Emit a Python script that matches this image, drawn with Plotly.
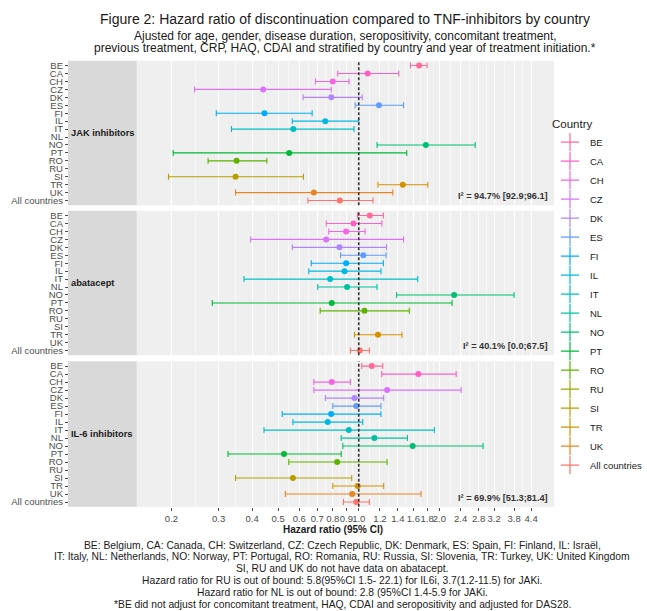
import math
import plotly.graph_objects as go

W, H = 647, 611

countries = ["BE", "CA", "CH", "CZ", "DK", "ES", "FI", "IL", "IT", "NL",
             "NO", "PT", "RO", "RU", "SI", "TR", "UK", "All countries"]

panels = ["JAK inhibitors", "abatacept", "IL-6 inhibitors"]

jak_hr = [1.68, 1.08, 0.80, 0.44, 0.79, 1.19, 0.445, 0.75, 0.57, None,
          1.78, 0.55, 0.35, None, 0.347, 1.46, 0.68, 0.85]
jak_lo = [1.56, 0.835, 0.69, 0.244, 0.62, 0.97, 0.294, 0.565, 0.335, None,
          1.17, 0.203, 0.274, None, 0.195, 1.18, 0.347, 0.646]
jak_hi = [1.80, 1.41, 0.92, 0.79, 1.03, 1.47, 0.67, 1.0, 0.96, None,
          2.72, 1.51, 0.454, None, 0.622, 1.81, 1.34, 1.13]

abt_hr = [1.10, 0.956, 0.897, 0.756, 0.847, 1.04, 0.897, 0.885, 0.782, 0.905,
          2.27, 0.793, 1.05, None, None, 1.18, None, 1.01]
abt_lo = [0.99, 0.756, 0.773, 0.395, 0.565, 0.855, 0.665, 0.651, 0.373, 0.703,
          1.385, 0.284, 0.718, None, None, 0.964, None, 0.931]
abt_hi = [1.236, 1.22, 1.056, 1.47, 1.27, 1.265, 1.236, 1.21, 1.66, 1.17,
          3.80, 2.23, 1.545, None, None, 1.45, None, 1.096]

il6_hr = [1.118, 1.669, 0.793, 1.276, 0.964, 0.978, 0.789, 0.766, 0.918, 1.144,
          1.589, 0.526, 0.831, None, 0.568, 0.991, 0.945, 0.978]
il6_lo = [1.026, 1.218, 0.68, 0.68, 0.751, 0.80, 0.518, 0.568, 0.443, 0.86,
          0.872, 0.325, 0.548, None, 0.347, 0.80, 0.532, 0.877]
il6_hi = [1.229, 2.31, 0.931, 2.41, 1.239, 1.21, 1.21, 1.035, 1.915, 1.52,
          2.91, 0.86, 1.276, None, 0.942, 1.239, 1.708, 1.096]

i2_labels = ["I² = 94.7% [92.9;96.1]", "I² = 40.1% [0.0;67.5]", "I² = 69.9% [51.3;81.4]"]

tick_vals = [0.2, 0.3, 0.4, 0.5, 0.6, 0.7, 0.8, 0.9, 1.0, 1.2, 1.4, 1.6, 1.8,
             2.0, 2.4, 2.8, 3.2, 3.8, 4.4]
tick_text = ["0.2", "0.3", "0.4", "0.5", "0.6", "0.7", "0.8", "0.9", "1.0", "1.2",
             "1.4", "1.6", "1.8", "2.0", "2.4", "2.8", "3.2", "3.8", "4.4"]

title = "Figure 2: Hazard ratio of discontinuation compared to TNF-inhibitors by country"
subtitle = ["Ajusted for age, gender, disease duration, seropositivity, concomitant treatment,",
            "previous treatment, CRP, HAQ, CDAI and stratified by country and year of treatment initiation.*"]
footnotes = [
    "BE: Belgium, CA: Canada, CH: Switzerland, CZ: Czech Republic, DK: Denmark, ES: Spain, FI: Finland, IL: Israël,",
    "IT: Italy, NL: Netherlands, NO: Norway, PT: Portugal, RO: Romania, RU: Russia, SI: Slovenia, TR: Turkey, UK: United Kingdom",
    "SI, RU and UK do not have data on abatacept.",
    "Hazard ratio for RU is out of bound: 5.8(95%CI 1.5- 22.1) for IL6i, 3.7(1.2-11.5) for JAKi.",
    "Hazard ratio for NL is out of bound: 2.8 (95%CI 1.4-5.9 for JAKi.",
    "*BE did not adjust for concomitant treatment, HAQ, CDAI and seropositivity and adjusted for DAS28.",
]

panel_data = [(jak_hr, jak_lo, jak_hi), (abt_hr, abt_lo, abt_hi), (il6_hr, il6_lo, il6_hi)]


# ggplot-like hue palette (hcl, c=100, l=65)
def hcl_hex(h, c=100.0, l=65.0):
    Xn, Yn, Zn = 95.047, 100.0, 108.883
    un = 4 * Xn / (Xn + 15 * Yn + 3 * Zn)
    vn = 9 * Yn / (Xn + 15 * Yn + 3 * Zn)
    u = c * math.cos(math.radians(h))
    v = c * math.sin(math.radians(h))
    Y = Yn * ((l + 16) / 116) ** 3
    up = u / (13 * l) + un
    vp = v / (13 * l) + vn
    X = Y * 9 * up / (4 * vp)
    Z = Y * (12 - 3 * up - 20 * vp) / (4 * vp)
    X, Y, Z = X / 100, Y / 100, Z / 100
    r = 3.240479 * X - 1.537150 * Y - 0.498535 * Z
    g = -0.969256 * X + 1.875992 * Y + 0.041556 * Z
    b = 0.055648 * X - 0.204043 * Y + 1.057311 * Z

    def gam(t):
        t = 12.92 * t if t <= 0.0031308 else 1.055 * t ** (1 / 2.4) - 0.055
        return max(0, min(255, round(t * 255)))
    return "#%02X%02X%02X" % (gam(r), gam(g), gam(b))


n = len(countries)
hues = [15 + i * 360 / n for i in range(n)]
colors = [hcl_hex(h) for h in reversed(hues)]

BASE = "Liberation Sans, Arial, sans-serif"


def px_x(p):
    return p / W


def px_y(p):
    return 1 - p / H


panel_px = [(60, 205), (210.5, 355.5), (361.5, 507.5)]
x_left, x_right = 137, 555
strip_left = 68

fig = go.Figure()

for pi, (hr, lo, hi) in enumerate(panel_data):
    xa = "x" if pi == 0 else "x%d" % (pi + 1)
    ya = "y" if pi == 0 else "y%d" % (pi + 1)
    for ci, c in enumerate(countries):
        if hr[ci] is None:
            continue
        fig.add_trace(go.Scatter(
            x=[hr[ci]], y=[c], mode="markers", xaxis=xa, yaxis=ya,
            marker=dict(color=colors[ci], size=6),
            error_x=dict(type="data", symmetric=False,
                         array=[hi[ci] - hr[ci]], arrayminus=[hr[ci] - lo[ci]],
                         color=colors[ci], thickness=1.1, width=3),
            showlegend=False, hoverinfo="skip"))

# legend entries
for ci, c in enumerate(countries):
    fig.add_trace(go.Scatter(
        x=[None], y=[None], mode="markers", name=c,
        marker=dict(symbol="cross-thin", size=13, color=colors[ci],
                    line=dict(color=colors[ci], width=1.2)),
        showlegend=True))

lx0, lx1 = math.log10(0.1485), math.log10(5.36)
minor_vals = [math.sqrt(tick_vals[i] * tick_vals[i + 1]) for i in range(len(tick_vals) - 1)]

layout = dict(
    width=W, height=H,
    margin=dict(l=0, r=0, t=0, b=0),
    paper_bgcolor="white", plot_bgcolor="#EFEFEF",
    font=dict(family=BASE, color="#4D4D4D"),
    showlegend=True,
    legend=dict(x=px_x(551), y=px_y(112), xanchor="left", yanchor="top",
                title=dict(text="Country", font=dict(size=11.5, color="#1A1A1A", family=BASE)),
                font=dict(size=9.5, color="#1A1A1A", family=BASE),
                tracegroupgap=0, itemwidth=30, bgcolor="rgba(0,0,0,0)"),
)

for pi in range(3):
    xk = "xaxis" if pi == 0 else "xaxis%d" % (pi + 1)
    yk = "yaxis" if pi == 0 else "yaxis%d" % (pi + 1)
    ytop, ybot = panel_px[pi]
    last = pi == 2
    layout[xk] = dict(
        type="log", range=[lx0, lx1], domain=[px_x(x_left), px_x(x_right)],
        anchor="y" if pi == 0 else "y%d" % (pi + 1),
        tickvals=tick_vals, ticktext=tick_text, tickangle=0,
        showticklabels=last, ticks="outside" if last else "", ticklen=3,
        tickcolor="#4D4D4D", tickfont=dict(size=9.5, color="#4D4D4D", family=BASE),
        showgrid=True, gridcolor="white", gridwidth=1, zeroline=False, showline=False,
        minor=dict(tickvals=minor_vals, showgrid=True, gridcolor="#F8F8F8", gridwidth=0.5, ticks=""),
    )
    if pi > 0:
        layout[xk]["matches"] = "x"
    layout[yk] = dict(
        type="category", categoryorder="array", categoryarray=countries,
        tickmode="array", tickvals=countries, ticktext=countries,
        range=[len(countries) - 0.4, -0.6],
        domain=[px_y(ybot), px_y(ytop)],
        anchor="free", position=px_x(strip_left),
        ticks="outside", ticklen=3, tickcolor="#4D4D4D",
        tickfont=dict(size=9.5, color="#4D4D4D", family=BASE),
        showgrid=False, zeroline=False, showline=False,
    )

fig.update_layout(**layout)

shapes = []
annotations = []
for pi in range(3):
    ytop, ybot = panel_px[pi]
    ya = "y" if pi == 0 else "y%d" % (pi + 1)
    xa = "x" if pi == 0 else "x%d" % (pi + 1)
    shapes.append(dict(type="rect", xref="paper", yref="paper",
                       x0=px_x(strip_left), x1=px_x(x_left), y0=px_y(ybot), y1=px_y(ytop),
                       fillcolor="#D9D9D9", line=dict(width=0), layer="below"))
    shapes.append(dict(type="line", xref=xa, yref=ya + " domain", x0=1, x1=1, y0=0, y1=1,
                       line=dict(color="#333333", width=1.6, dash="3px,2px"), layer="above"))
    annotations.append(dict(text="<b>%s</b>" % panels[pi], xref="paper", yref="paper",
                            x=px_x(69), y=px_y((ytop + ybot) / 2), xanchor="left", yanchor="middle",
                            showarrow=False, font=dict(size=9.3, color="#1A1A1A", family=BASE)))
    annotations.append(dict(text="<b>%s</b>" % i2_labels[pi], xref="paper", yref="paper",
                            x=px_x(551), y=px_y(ybot - 9), xanchor="right", yanchor="middle",
                            showarrow=False, font=dict(size=9.2, color="#333333", family=BASE)))

annotations.append(dict(text=title, xref="paper", yref="paper", x=px_x(346), y=px_y(18),
                        xanchor="center", yanchor="middle", showarrow=False,
                        font=dict(size=14, color="#1A1A1A", family=BASE)))
for i, s in enumerate(subtitle):
    annotations.append(dict(text=s, xref="paper", yref="paper", x=px_x(346), y=px_y(35 + 12.5 * i),
                            xanchor="center", yanchor="middle", showarrow=False,
                            font=dict(size=12, color="#1A1A1A", family=BASE)))
annotations.append(dict(text="<b>Hazard ratio (95% CI)</b>", xref="paper", yref="paper",
                        x=px_x(334), y=px_y(530), xanchor="center", yanchor="middle", showarrow=False,
                        font=dict(size=10, color="#1A1A1A", family=BASE)))
for i, s in enumerate(footnotes):
    annotations.append(dict(text=s, xref="paper", yref="paper", x=px_x(343), y=px_y(546 + 11.8 * i),
                            xanchor="center", yanchor="middle", showarrow=False,
                            font=dict(size=10.3, color="#1A1A1A", family=BASE)))

fig.update_layout(shapes=shapes, annotations=annotations)
fig.write_html("out.html", config={"displayModeBar": False},
               post_script="document.body.style.margin='0';document.body.style.overflow='hidden';")
